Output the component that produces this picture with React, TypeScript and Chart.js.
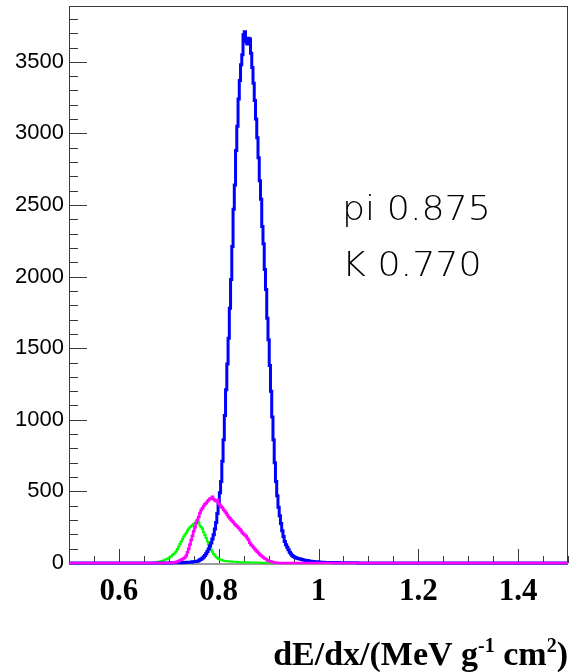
import React, { useEffect, useRef } from "react";
import { Chart, registerables } from "chart.js";

Chart.register(...registerables);

// ---- axis ranges / ticks ----
const X_MIN = 0.5;
const X_MAX = 1.5;
const Y_MIN = 0;
const Y_MAX = 3890;
const BIN_WIDTH = 0.0025;
const X_TICKS = [0.6, 0.8, 1.0, 1.2, 1.4];
const X_TICK_LABELS = ["0.6", "0.8", "1", "1.2", "1.4"];
const Y_TICKS = [0, 500, 1000, 1500, 2000, 2500, 3000, 3500];
const Y_TICK_LABELS = ["0", "500", "1000", "1500", "2000", "2500", "3000", "3500"];

// ---- histogram contents (bin centres start at *_START, step BIN_WIDTH) ----
const PI_START = 0.7;
const PI_COUNTS = [
  0, 1, 0, 1, 1, 1, 2, 1, 2, 2,
  3, 2, 3, 4, 4, 5, 5, 6, 6, 8,
  8, 10, 11, 13, 16, 22, 27, 34, 42, 52,
  64, 80, 97, 118, 140, 168, 198, 238, 282, 345,
  420, 490, 570, 710, 860, 1030, 1210, 1390, 1570, 1780,
  1980, 2210, 2470, 2640, 2880, 3050, 3240, 3370, 3480, 3550,
  3690, 3710, 3640, 3625, 3665, 3660, 3560, 3460, 3350, 3230,
  3100, 2970, 2830, 2670, 2540, 2350, 2230, 2050, 1910, 1710,
  1560, 1380, 1200, 1020, 860, 700, 570, 470, 390, 330,
  275, 225, 185, 150, 128, 110, 92, 75, 62, 52,
  45, 40, 36, 33, 30, 29, 27, 24, 21, 19,
  17, 17, 16, 13, 12, 11, 10, 9, 9, 8,
  7, 7, 6, 5, 5, 4, 4, 4, 4, 3,
  3, 3, 3, 2, 2, 3, 3, 2, 2, 2,
  2, 1, 1, 2, 2, 1, 1, 1, 1, 1,
  1, 1, 0,
];

const K_START = 0.7;
const K_COUNTS = [
  0, 1, 1, 2, 3, 5, 7, 10, 14, 18,
  22, 27, 32, 38, 50, 75, 100, 130, 160, 190,
  222, 250, 278, 300, 322, 350, 370, 382, 398, 410,
  418, 430, 440, 448, 452, 462, 445, 438, 432, 440,
  415, 405, 395, 385, 372, 362, 350, 335, 322, 312,
  300, 292, 282, 270, 262, 255, 246, 235, 225, 212,
  202, 195, 186, 172, 160, 142, 128, 118, 108, 98,
  88, 78, 70, 60, 52, 45, 38, 32, 28, 20,
  16, 12, 10, 7, 5, 3, 2, 1, 0,
];

const G_START = 0.67;
const G_COUNTS = [
  0, 2, 3, 5, 8, 10, 12, 15, 18, 22,
  26, 30, 35, 40, 47, 55, 63, 72, 82, 98,
  115, 132, 150, 165, 185, 198, 210, 225, 240, 250,
  256, 265, 272, 280, 290, 296, 285, 262, 250, 240,
  215, 195, 175, 150, 130, 112, 95, 78, 62, 52,
  42, 35, 28, 25, 22, 19, 16, 14, 13, 12,
  11, 10, 10, 9, 9, 8, 8, 7, 7, 6,
  6, 6, 6, 5, 5, 5, 5, 4, 4, 4,
  4, 3, 3, 3, 3, 2, 2, 2, 2, 2,
  2, 1, 1, 1, 1, 1, 1, 1, 0,
];

const LABEL_LINES = ["pi 0.875", "K 0.770"];

function toBins(start: number, counts: number[]) {
  const n = Math.round((X_MAX - X_MIN) / BIN_WIDTH);
  const offset = Math.round((start - X_MIN) / BIN_WIDTH);
  const pts: { x: number; y: number }[] = [];
  for (let i = 0; i <= n; i++) {
    const j = i - offset;
    pts.push({ x: X_MIN + i * BIN_WIDTH, y: j >= 0 && j < counts.length ? counts[j] : 0 });
  }
  return pts;
}

const framePlugin = {
  id: "rootFrame",
  beforeDatasetsDraw(chart: any) {
    const { ctx, chartArea } = chart;
    const { left, right, top, bottom } = chartArea;
    const xs = chart.scales.x;
    const ys = chart.scales.y;
    ctx.save();
    ctx.strokeStyle = "#3a3a3a";
    ctx.lineWidth = 1;
    ctx.strokeRect(left + 0.5, top + 0.5, right - left - 1, bottom - top + 0.5);
    ctx.beginPath();
    for (let k = 0; k * 100 <= Y_MAX; k++) {
      const v = k * 100;
      const y = Math.round(ys.getPixelForValue(v)) + 0.5;
      const len = k % 5 === 0 ? 18 : 9;
      ctx.moveTo(left, y);
      ctx.lineTo(left + len, y);
    }
    for (let k = 10; k <= 30; k++) {
      const v = k * 0.05;
      const x = Math.round(xs.getPixelForValue(v)) + 0.5;
      const len = k % 4 === 0 ? 14 : 7;
      ctx.moveTo(x, bottom);
      ctx.lineTo(x, bottom - len);
    }
    ctx.stroke();
    ctx.restore();
  },
  afterDraw(chart: any) {
    const { ctx } = chart;
    ctx.save();
    // annotation
    ctx.fillStyle = "#000";
    ctx.textBaseline = "alphabetic";
    ctx.textAlign = "left";
    ctx.font = '300 34px "DejaVu Sans"';
    const baselines = [220, 276];
    LABEL_LINES.forEach((t, i) => {
      ctx.save();
      ctx.translate(342, baselines[i]);
      ctx.scale(1.07, 1);
      ctx.fillText(t, 0, 0);
      ctx.restore();
    });
    // x axis title with superscripts
    const parts: [string, boolean][] = [
      ["dE/dx/(MeV g", false],
      ["-1", true],
      [" cm", false],
      ["2", true],
      [")", false],
    ];
    const mainFont = 'bold 34px "Liberation Serif"';
    const supFont = 'bold 20px "Liberation Serif"';
    let total = 0;
    const widths = parts.map(([t, sup]) => {
      ctx.font = sup ? supFont : mainFont;
      const w = ctx.measureText(t).width;
      total += w;
      return w;
    });
    let x = 568 - total;
    const base = 665;
    parts.forEach(([t, sup], i) => {
      ctx.font = sup ? supFont : mainFont;
      ctx.fillText(t, x, sup ? base - 13 : base);
      x += widths[i];
    });
    ctx.restore();
  },
};

export default function App() {
  const ref = useRef<HTMLCanvasElement | null>(null);
  useEffect(() => {
    document.body.style.margin = "0";
    const canvas = ref.current!;
    const chart = new Chart(canvas, {
      type: "line",
      data: {
        datasets: [
          {
            label: "K",
            data: toBins(K_START, K_COUNTS),
            borderColor: "#ff00ff",
            borderWidth: 2.5,
            stepped: "middle",
            pointRadius: 0,
            fill: false,
            clip: false,
          },
          {
            label: "pi",
            data: toBins(PI_START, PI_COUNTS),
            borderColor: "#0000ff",
            borderWidth: 3,
            stepped: "middle",
            pointRadius: 0,
            fill: false,
            clip: false,
          },
          {
            label: "other",
            data: toBins(G_START, G_COUNTS),
            borderColor: "#00ff00",
            borderWidth: 2,
            stepped: "middle",
            pointRadius: 0,
            fill: false,
            clip: false,
          },
        ],
      },
      options: {
        responsive: false,
        animation: false,
        devicePixelRatio: 1,
        parsing: false,
        layout: { padding: { top: 6, right: 1, left: 0, bottom: 0 } },
        plugins: { legend: { display: false }, tooltip: { enabled: false }, title: { display: false } },
        scales: {
          x: {
            type: "linear",
            min: X_MIN,
            max: X_MAX,
            grid: { display: false, drawTicks: false },
            border: { display: false },
            afterBuildTicks: (s: any) => {
              s.ticks = X_TICKS.map((v) => ({ value: v }));
            },
            afterFit: (s: any) => {
              s.height = 109;
              s.paddingLeft = 0;
              s.paddingRight = 0;
            },
            ticks: {
              autoSkip: false,
              maxRotation: 0,
              padding: 10,
              color: "#000",
              font: { family: "Liberation Serif", size: 31, weight: "bold" },
              callback: (_v: any, i: number) => X_TICK_LABELS[i],
            },
          },
          y: {
            type: "linear",
            min: Y_MIN,
            max: Y_MAX,
            grid: { display: false, drawTicks: false },
            border: { display: false },
            afterBuildTicks: (s: any) => {
              s.ticks = Y_TICKS.map((v) => ({ value: v }));
            },
            afterFit: (s: any) => {
              s.width = 69;
              s.paddingTop = 0;
              s.paddingBottom = 0;
            },
            ticks: {
              autoSkip: false,
              padding: 5,
              color: "#000",
              font: { family: "Liberation Sans", size: 22 },
              callback: (_v: any, i: number) => Y_TICK_LABELS[i],
            },
          },
        },
      },
      plugins: [framePlugin],
    } as any);
    return () => chart.destroy();
  }, []);
  return (
    <div style={{ width: 569, height: 672 }}>
      <canvas ref={ref} width={569} height={672} style={{ display: "block" }} />
    </div>
  );
}
